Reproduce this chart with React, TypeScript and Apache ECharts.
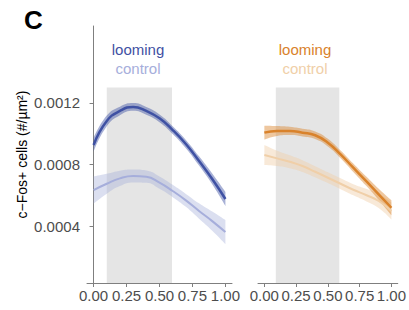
import React, { useEffect, useRef } from "react";
import * as echarts from "echarts";

const xs = [0, 0.1, 0.2, 0.3, 0.4, 0.5, 0.6, 0.7, 0.8, 0.9, 1.0];
const xTicks = [0, 0.25, 0.5, 0.75, 1.0];
const yTicks = [0.0004, 0.0008, 0.0012];

// Left panel (blue)
const blueLooming = [0.000927, 0.001083, 0.001148, 0.001174, 0.001148, 0.0011, 0.001024, 0.000933, 0.000823, 0.000706, 0.000576];
const blueLoomingSE = [0.000045, 0.000035, 0.000028, 0.000025, 0.000025, 0.000025, 0.000025, 0.000027, 0.00003, 0.000035, 0.000045];
const blueControl = [0.000634, 0.000675, 0.00071, 0.000725, 0.000721, 0.000682, 0.000628, 0.000567, 0.000498, 0.000432, 0.000361];
const blueControlSE = [0.000089, 0.000065, 0.00005, 0.000042, 0.00004, 0.00004, 0.00004, 0.000042, 0.00005, 0.000062, 0.000078];

// Right panel (orange)
const orangeLooming = [0.001007, 0.001018, 0.001018, 0.001007, 0.00099, 0.000942, 0.000866, 0.000779, 0.000693, 0.000606, 0.000519];
const orangeLoomingSE = [0.000045, 0.000032, 0.000027, 0.000025, 0.000025, 0.000025, 0.000025, 0.000027, 0.00003, 0.000036, 0.000048];
const orangeControl = [0.000862, 0.00084, 0.000818, 0.00079, 0.000753, 0.000714, 0.000675, 0.000636, 0.000602, 0.000563, 0.000498];
const orangeControlSE = [0.000065, 0.00005, 0.000042, 0.000038, 0.000036, 0.000035, 0.000035, 0.000036, 0.00004, 0.000045, 0.000055];

const stimLeft = [0.1, 0.595];
const stimRight = [0.09, 0.59];
const stimTop = 0.0013;

const Y_MIN = 0.00003;
const Y_MAX = 0.0017;

const AXIS_GREY = "#7f7f7f";
const TEXT_GREY = "#4d4d4d";

// Band: data stored as [y, x] so that the stack is applied on the y value.
function bandSeries(id: string, idx: number, vals: number[], se: number[], color: string) {
  const lower = xs.map((x, i) => [vals[i] - se[i], x]);
  const diff = xs.map((x, i) => [2 * se[i], x]);
  return [
    {
      type: "line",
      name: id + "-lo",
      xAxisIndex: idx,
      yAxisIndex: idx,
      stack: id,
      encode: { x: 1, y: 0 },
      data: lower,
      smooth: 0.5,
      showSymbol: false,
      lineStyle: { opacity: 0 },
      silent: true,
      z: 2,
    },
    {
      type: "line",
      name: id + "-band",
      xAxisIndex: idx,
      yAxisIndex: idx,
      stack: id,
      encode: { x: 1, y: 0 },
      data: diff,
      smooth: 0.5,
      showSymbol: false,
      lineStyle: { opacity: 0 },
      areaStyle: { color, opacity: 1 },
      silent: true,
      z: 2,
    },
  ];
}

function lineSeries(idx: number, vals: number[], color: string, width: number, z: number) {
  return {
    type: "line",
    xAxisIndex: idx,
    yAxisIndex: idx,
    data: xs.map((x, i) => [x, vals[i]]),
    smooth: 0.5,
    showSymbol: false,
    lineStyle: { color, width },
    silent: true,
    z,
  };
}

function stimSeries(idx: number, range: number[]) {
  return {
    type: "line",
    xAxisIndex: idx,
    yAxisIndex: idx,
    data: [],
    silent: true,
    z: 1,
    markArea: {
      silent: true,
      itemStyle: { color: "#e5e5e5" },
      data: [[{ xAxis: range[0], yAxis: Y_MIN }, { xAxis: range[1], yAxis: stimTop }]],
    },
  };
}

const font = "Liberation Sans, Arial, sans-serif";

const xAxisBase = (idx: number) => ({
  type: "value",
  gridIndex: idx,
  min: -0.05,
  max: 1.05,
  axisLine: { show: true, lineStyle: { color: AXIS_GREY, width: 1 } },
  axisTick: { show: true, length: 4, customValues: xTicks, lineStyle: { color: AXIS_GREY } },
  axisLabel: {
    show: true,
    customValues: xTicks,
    formatter: (v: number) => v.toFixed(2),
    color: TEXT_GREY,
    fontSize: 15,
    fontFamily: font,
    margin: 5,
  },
  splitLine: { show: false },
});

export default function App() {
  const ref = useRef<HTMLDivElement>(null);
  useEffect(() => {
    if (!ref.current) return;
    const chart = echarts.init(ref.current, undefined, { renderer: "svg" });
    chart.setOption({
      animation: false,
      backgroundColor: "#ffffff",
      grid: [
        { left: 87, top: 26, width: 145, height: 257 },
        { left: 258, top: 26, width: 144, height: 257 },
      ],
      xAxis: [xAxisBase(0), xAxisBase(1)],
      yAxis: [
        {
          type: "value",
          gridIndex: 0,
          min: Y_MIN,
          max: Y_MAX,
          name: "c\u2212Fos+ cells (#/\u00b5m\u00b2)",
          nameLocation: "middle",
          nameGap: 58,
          nameTextStyle: { color: "#000000", fontSize: 14, fontFamily: font },
          axisLine: { show: true, lineStyle: { color: AXIS_GREY, width: 1 } },
          axisTick: { show: true, length: 4, customValues: yTicks, lineStyle: { color: AXIS_GREY } },
          axisLabel: {
            show: true,
            customValues: yTicks,
            formatter: (v: number) => v.toFixed(4),
            color: TEXT_GREY,
            fontSize: 15,
            fontFamily: font,
            margin: 7,
          },
          splitLine: { show: false },
        },
        {
          type: "value",
          gridIndex: 1,
          min: Y_MIN,
          max: Y_MAX,
          axisLine: { show: false },
          axisTick: { show: false },
          axisLabel: { show: false },
          splitLine: { show: false },
        },
      ],
      graphic: [
        {
          type: "text",
          left: 24,
          top: 7,
          style: { text: "C", fontSize: 26, fontWeight: "bold", fill: "#000", fontFamily: font },
        },
        {
          type: "text",
          x: 138,
          y: 49,
          style: { text: "looming", fontSize: 15, fill: "#3f51a3", fontFamily: font, textAlign: "center", textVerticalAlign: "middle" },
        },
        {
          type: "text",
          x: 138,
          y: 68,
          style: { text: "control", fontSize: 15, fill: "#a6aedb", fontFamily: font, textAlign: "center", textVerticalAlign: "middle" },
        },
        {
          type: "text",
          x: 305,
          y: 49,
          style: { text: "looming", fontSize: 15, fill: "#d9822b", fontFamily: font, textAlign: "center", textVerticalAlign: "middle" },
        },
        {
          type: "text",
          x: 305,
          y: 68,
          style: { text: "control", fontSize: 15, fill: "#f0cfa8", fontFamily: font, textAlign: "center", textVerticalAlign: "middle" },
        },
      ],
      series: [
        stimSeries(0, stimLeft),
        stimSeries(1, stimRight),
        ...bandSeries("bc", 0, blueControl, blueControlSE, "rgba(165,174,218,0.4)"),
        lineSeries(0, blueControl, "#a6aedb", 2, 3),
        ...bandSeries("bl", 0, blueLooming, blueLoomingSE, "rgba(63,81,163,0.45)"),
        lineSeries(0, blueLooming, "#3f51a3", 2.5, 3),
        ...bandSeries("oc", 1, orangeControl, orangeControlSE, "rgba(240,207,168,0.45)"),
        lineSeries(1, orangeControl, "#f0cfa8", 2, 3),
        ...bandSeries("ol", 1, orangeLooming, orangeLoomingSE, "rgba(217,130,43,0.45)"),
        lineSeries(1, orangeLooming, "#d9822b", 2.5, 3),
      ],
    });
    return () => chart.dispose();
  }, []);
  return <div ref={ref} style={{ width: 409, height: 310, position: "absolute", left: 0, top: 0 }} />;
}
